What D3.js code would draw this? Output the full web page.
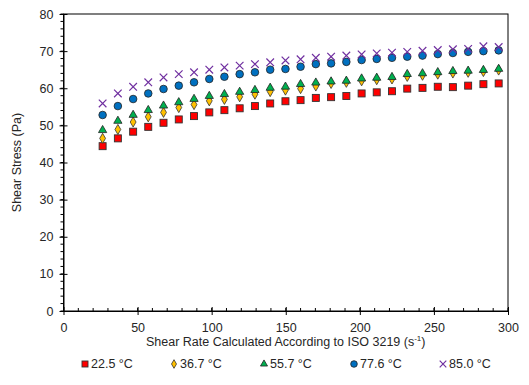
<!DOCTYPE html>
<html>
<head>
<meta charset="utf-8">
<script src="https://cdn.jsdelivr.net/npm/d3@7"></script>
<style>
  body { margin: 0; background: #fff; }
  svg { font-family: "Liberation Sans", Arial, sans-serif; }
</style>
</head>
<body>
<div id="chart"></div>
<script>
// shear rate (s^-1)
const shearRate = [26.4, 36.7, 47.0, 57.2, 67.5, 77.8, 88.1, 98.4, 108.6, 118.9,
  129.2, 139.5, 149.8, 160.0, 170.3, 180.6, 190.9, 201.2, 211.4, 221.7,
  232.0, 242.3, 252.6, 262.8, 273.1, 283.4, 293.7];

const stress225 = [44.4, 46.5, 48.3, 49.6, 50.7, 51.6, 52.5, 53.5, 54.1, 54.6,
  55.2, 55.9, 56.5, 56.8, 57.4, 57.6, 57.9, 58.6, 58.9, 59.2,
  59.9, 60.1, 60.4, 60.3, 60.7, 61.1, 61.3];
const stress367 = [46.5, 48.9, 50.9, 52.3, 53.5, 54.8, 55.6, 56.6, 57.0, 57.7,
  58.4, 59.1, 59.5, 59.9, 60.6, 61.3, 61.6, 62.0, 62.3, 62.5,
  63.2, 63.5, 63.8, 64.1, 64.3, 64.5, 64.9];
const stress557 = [48.7, 51.2, 52.8, 54.1, 55.3, 56.2, 57.1, 57.9, 58.4, 59.0,
  59.5, 60.1, 60.4, 61.1, 61.5, 61.8, 62.0, 62.6, 62.8, 63.0,
  63.8, 64.0, 64.3, 64.6, 64.7, 64.9, 65.2];
const stress776 = [52.8, 55.2, 57.1, 58.6, 59.8, 60.7, 61.6, 62.5, 63.1, 63.8,
  64.3, 65.0, 65.2, 65.8, 66.5, 66.7, 67.1, 67.6, 67.9, 68.2,
  68.5, 68.8, 69.2, 69.5, 69.8, 70.0, 70.2];
const stress850 = [55.9, 58.6, 60.4, 61.6, 62.9, 63.8, 64.3, 65.0, 65.6, 66.1,
  66.5, 67.0, 67.5, 67.8, 68.2, 68.5, 68.8, 69.1, 69.4, 69.6,
  69.8, 70.1, 70.3, 70.5, 70.6, 71.3, 71.1];

const seriesNames = ['22.5 °C', '36.7 °C', '55.7 °C', '77.6 °C', '85.0 °C'];
const xTicks = [0, 50, 100, 150, 200, 250, 300];
const yTicks = [0, 10, 20, 30, 40, 50, 60, 70, 80];

const series = [
  {name: seriesNames[0], values: stress225, shape: 'square', fill: '#FF0000'},
  {name: seriesNames[1], values: stress367, shape: 'diamond', fill: '#FFC000'},
  {name: seriesNames[2], values: stress557, shape: 'triangle', fill: '#00B050'},
  {name: seriesNames[3], values: stress776, shape: 'circle', fill: '#0070C0'},
  {name: seriesNames[4], values: stress850, shape: 'cross', fill: '#7030A0'}
];

const width = 529, height = 385;
const margin = {top: 14, right: 21, bottom: 74, left: 63.5};

const svg = d3.select('#chart').append('svg')
    .attr('width', width)
    .attr('height', height);

const x = d3.scaleLinear().domain([0, 300]).range([margin.left, width - margin.right]);
const y = d3.scaleLinear().domain([0, 80]).range([height - margin.bottom, margin.top]);

const textColor = '#262626';
const axisColor = '#000';

// plot frame
svg.append('rect')
    .attr('x', x(0)).attr('y', y(80))
    .attr('width', x(300) - x(0)).attr('height', y(0) - y(80))
    .attr('fill', 'none').attr('stroke', axisColor).attr('stroke-width', 1);

// minor ticks
svg.append('g').selectAll('line')
    .data(d3.range(0, 301, 10))
    .join('line')
    .attr('x1', d => x(d)).attr('x2', d => x(d))
    .attr('y1', y(0)).attr('y2', y(0) - 3)
    .attr('stroke', axisColor);
svg.append('g').selectAll('line')
    .data(d3.range(0, 81, 2))
    .join('line')
    .attr('y1', d => y(d)).attr('y2', d => y(d))
    .attr('x1', x(0) - 3).attr('x2', x(0))
    .attr('stroke', axisColor);

// major axes (cross ticks)
const xAxis = svg.append('g')
    .attr('transform', `translate(0,${y(0)})`)
    .call(d3.axisBottom(x).tickValues(xTicks).tickSize(4).tickSizeOuter(0).tickPadding(6));
xAxis.selectAll('.tick line').attr('y1', -4);
const yAxis = svg.append('g')
    .attr('transform', `translate(${x(0)},0)`)
    .call(d3.axisLeft(y).tickValues(yTicks).tickSize(4).tickSizeOuter(0).tickPadding(6));
yAxis.selectAll('.tick line').attr('x1', 4);

[xAxis, yAxis].forEach(a => {
  a.select('.domain').attr('stroke', axisColor);
  a.selectAll('.tick line').attr('stroke', axisColor);
  a.selectAll('text').attr('fill', textColor).style('font-size', '12.5px')
      .style('font-family', '"Liberation Sans", Arial, sans-serif');
});
xAxis.selectAll('text').attr('dy', '0.9em');

// axis titles
const xTitle = svg.append('text')
    .attr('x', (x(0) + x(300)) / 2).attr('y', 346)
    .attr('text-anchor', 'middle').attr('fill', textColor)
    .style('font-size', '12.5px');
xTitle.append('tspan').text('Shear Rate Calculated According to ISO 3219 (s');
xTitle.append('tspan').attr('dy', -5).style('font-size', '8px').text('-1');
xTitle.append('tspan').attr('dy', 5).text(')');

svg.append('text')
    .attr('transform', `translate(21,${(y(0) + y(80)) / 2}) rotate(-90)`)
    .attr('text-anchor', 'middle').attr('fill', textColor)
    .style('font-size', '12.5px')
    .text('Shear Stress (Pa)');

// marker drawing
function drawMarker(g, shape, fill, s) {
  if (shape === 'square') {
    g.append('rect').attr('x', -s / 2).attr('y', -s / 2).attr('width', s).attr('height', s)
        .attr('fill', fill).attr('stroke', '#333').attr('stroke-width', 0.9);
  } else if (shape === 'diamond') {
    g.append('path').attr('d', d3.symbol(d3.symbolDiamond, s * s * 0.6)())
        .attr('fill', fill).attr('stroke', '#333').attr('stroke-width', 0.8);
  } else if (shape === 'triangle') {
    g.append('path').attr('d', d3.symbol(d3.symbolTriangle, s * s * 0.6)())
        .attr('fill', fill).attr('stroke', '#222').attr('stroke-width', 0.8);
  } else if (shape === 'circle') {
    g.append('circle').attr('r', s / 2 + 0.3)
        .attr('fill', fill).attr('stroke', '#222').attr('stroke-width', 0.8);
  } else {
    const h = s / 2 + 0.3;
    g.append('path').attr('d', `M${-h},${-h}L${h},${h}M${-h},${h}L${h},${-h}`)
        .attr('stroke', fill).attr('stroke-width', 1.2).attr('fill', 'none');
  }
}

// points
series.forEach(sr => {
  const g = svg.append('g');
  sr.values.forEach((v, i) => {
    const m = g.append('g').attr('transform', `translate(${x(shearRate[i])},${y(v)})`);
    drawMarker(m, sr.shape, sr.fill, 7);
  });
});

// legend
const legendX = [85, 174, 264, 354, 443];
series.forEach((sr, i) => {
  const lg = svg.append('g').attr('transform', `translate(${legendX[i]},364)`);
  drawMarker(lg, sr.shape, sr.fill, 6);
  lg.append('text').attr('x', 6).attr('dy', '0.35em')
      .attr('fill', textColor).style('font-size', '12.5px').text(sr.name);
});
</script>
</body>
</html>
